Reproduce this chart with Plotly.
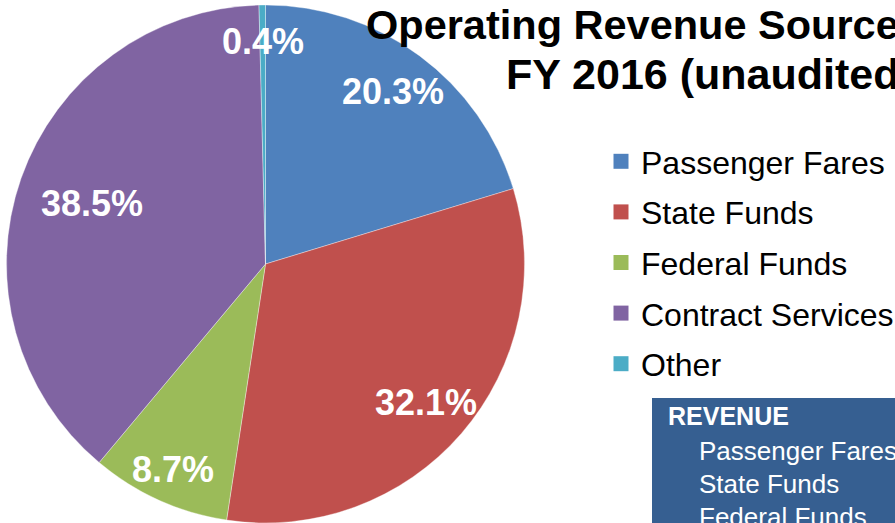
import math
import plotly.graph_objects as go

# ---- data ----
categories = ["Passenger Fares", "State Funds", "Federal Funds", "Contract Services", "Other"]
values = [20.3, 32.1, 8.7, 38.5, 0.4]
colors = ["#4F81BD", "#C0504D", "#9BBB59", "#8064A2", "#4BACC6"]
title_lines = ["Operating Revenue Sources", "FY 2016 (unaudited)"]
table_header = "REVENUE"
table_rows = ["Passenger Fares", "State Funds", "Federal Funds"]

W, H = 895, 523
FONT = "Liberation Sans, Arial, sans-serif"

# pie placement (pixels)
pie_left, pie_right, pie_top, pie_bottom = 6, 525, 5, 523
cx = (pie_left + pie_right) / 2
cy = pie_top + (pie_bottom - pie_top) / 2
R = min(pie_right - pie_left, pie_bottom - pie_top) / 2

fig = go.Figure()
fig.add_trace(go.Pie(
    labels=categories, values=values, sort=False, direction="clockwise", rotation=0,
    marker=dict(colors=colors, line=dict(color="rgba(255,255,255,0.6)", width=0.6)),
    textinfo="none", hoverinfo="label+percent", showlegend=False,
    domain=dict(x=[pie_left / W, pie_right / W], y=[1 - pie_bottom / H, 1 - pie_top / H]),
))

# legend entries (one group per category for spacing)
for cat, col in zip(categories, colors):
    fig.add_trace(go.Scatter(
        x=[None], y=[None], mode="markers", name=cat, legendgroup=cat,
        marker=dict(symbol="square", size=15, color=col), showlegend=True,
    ))

# percentage labels positioned from the data (mid-angle of each slice)
label_r = [0.83, 0.82, 0.87, 0.71, 0.86]
total = sum(values)
cum = 0.0
annotations = []
for v, rf in zip(values, label_r):
    mid = (cum + v / 2) / total * 2 * math.pi
    cum += v
    px = cx + R * rf * math.sin(mid)
    py = cy - R * rf * math.cos(mid)
    annotations.append(dict(
        x=px / W, y=1 - py / H, xref="paper", yref="paper", showarrow=False,
        text=f"<b>{v / total * 100:.1f}%</b>", xanchor="center", yanchor="middle",
        font=dict(family=FONT, size=36, color="white"),
    ))

# title (two lines)
annotations.append(dict(x=364 / W, y=1 - 24 / H, xref="paper", yref="paper", showarrow=False,
                        text=f"<b>{title_lines[0]}</b>", xanchor="left", yanchor="middle",
                        font=dict(family=FONT, size=41.5, color="black")))
annotations.append(dict(x=504 / W, y=1 - 74 / H, xref="paper", yref="paper", showarrow=False,
                        text=f"<b>{title_lines[1]}</b>", xanchor="left", yanchor="middle",
                        font=dict(family=FONT, size=43, color="black")))

# table box
annotations.append(dict(x=666 / W, y=1 - 416 / H, xref="paper", yref="paper", showarrow=False,
                        text=f"<b>{table_header}</b>", xanchor="left", yanchor="middle",
                        font=dict(family=FONT, size=25, color="white")))
for i, row in enumerate(table_rows):
    annotations.append(dict(x=697 / W, y=1 - (451 + 33 * i) / H, xref="paper", yref="paper",
                            showarrow=False, text=row, xanchor="left", yanchor="middle",
                            font=dict(family=FONT, size=26, color="white")))

fig.update_layout(
    width=W, height=H, margin=dict(l=0, r=0, t=0, b=0, autoexpand=False),
    paper_bgcolor="white", plot_bgcolor="white",
    xaxis=dict(visible=False, domain=[0.99, 1]), yaxis=dict(visible=False, domain=[0.99, 1]),
    showlegend=True,
    legend=dict(x=601 / W, y=1 - 134 / H, xref="container", yref="container",
                xanchor="left", yanchor="top",
                font=dict(family=FONT, size=32, color="black"), tracegroupgap=6,
                bgcolor="rgba(0,0,0,0)", itemclick=False, itemdoubleclick=False),
    shapes=[dict(type="rect", xref="paper", yref="paper", x0=652 / W, x1=1,
                 y0=0, y1=1 - 398 / H, fillcolor="#365F91", line=dict(width=0), layer="below")],
    annotations=annotations,
)

post = (
    "document.documentElement.style.overflow='hidden';"
    "document.body.style.margin='0';document.body.style.overflow='hidden';"
)
fig.write_html("out.html", config={"displayModeBar": False}, post_script=post)
